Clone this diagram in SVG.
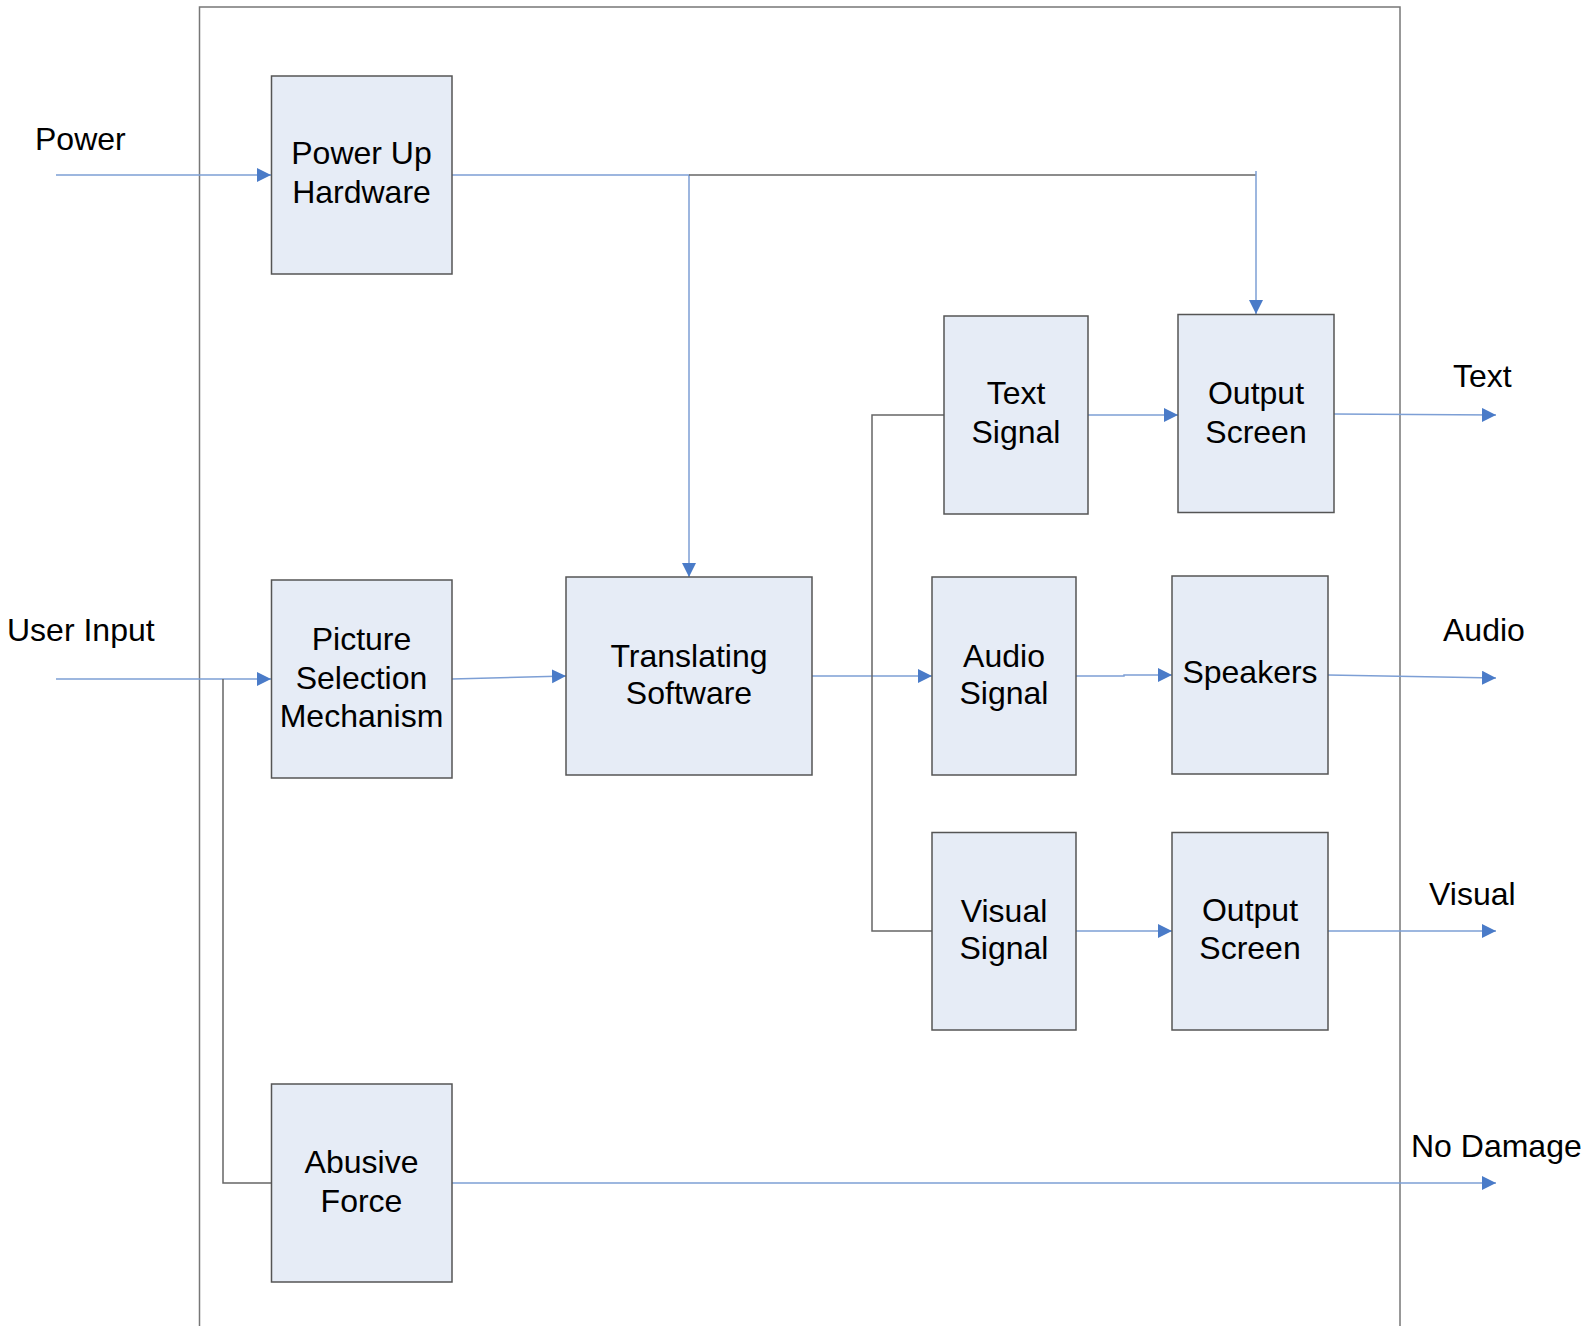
<svg xmlns="http://www.w3.org/2000/svg" width="1588" height="1326" viewBox="0 0 1588 1326">
<style>
.box{fill:#e6ecf6;stroke:#555;stroke-width:1.5}
.t{font-family:"Liberation Sans",Arial,sans-serif;font-size:32px;fill:#000}
.c{text-anchor:middle}
.b{fill:none;stroke:#7d9fd5;stroke-width:1.5}
.g{fill:none;stroke:#666;stroke-width:1.5}
</style>
<defs>
<marker id="arr" markerUnits="userSpaceOnUse" markerWidth="16" markerHeight="16" refX="14" refY="7" orient="auto">
<path d="M0,0 L14,7 L0,14 z" fill="#4a7bc8"/>
</marker>
</defs>
<rect width="1588" height="1326" fill="#fff"/>
<rect id="frame" x="199.5" y="7" width="1200.5" height="1340" fill="none" stroke="#777" stroke-width="1.5"/>

<g id="connectors">
<path class="b" d="M56,175 H271" marker-end="url(#arr)"/>
<path class="b" d="M452,175 H689 V577" marker-end="url(#arr)"/>
<path class="g" d="M689,175 H1256"/>
<path class="b" d="M1256,171 V314" marker-end="url(#arr)"/>
<path class="b" d="M56,679 H271" marker-end="url(#arr)"/>
<path class="g" d="M223,679 V1183 H272"/>
<path class="b" d="M452,679 L566,676" marker-end="url(#arr)"/>
<path class="b" d="M812,676 H932" marker-end="url(#arr)"/>
<path class="g" d="M944,415 H872 V931 H932"/>
<path class="b" d="M1088,415 H1178" marker-end="url(#arr)"/>
<path class="b" d="M1334,414 L1496,415" marker-end="url(#arr)"/>
<path class="b" d="M1076,676 H1124 V675 H1172" marker-end="url(#arr)"/>
<path class="b" d="M1328,675 L1496,678" marker-end="url(#arr)"/>
<path class="b" d="M1076,931 H1172" marker-end="url(#arr)"/>
<path class="b" d="M1328,931 H1496" marker-end="url(#arr)"/>
<path class="b" d="M452,1183 H1496" marker-end="url(#arr)"/>
</g>

<g id="power-up">
<rect class="box" x="271.5" y="76" width="180.5" height="198"/>
<text class="t c" x="361.5" y="164">Power Up</text>
<text class="t c" x="361.5" y="203">Hardware</text>
</g>
<g id="picture-selection">
<rect class="box" x="271.5" y="580" width="180.5" height="198"/>
<text class="t c" x="361.5" y="650">Picture</text>
<text class="t c" x="361.5" y="689">Selection</text>
<text class="t c" x="361.5" y="727">Mechanism</text>
</g>
<g id="abusive-force">
<rect class="box" x="271.5" y="1084" width="180.5" height="198"/>
<text class="t c" x="361.5" y="1173">Abusive</text>
<text class="t c" x="361.5" y="1212">Force</text>
</g>
<g id="translating">
<rect class="box" x="566" y="577" width="246" height="198"/>
<text class="t c" x="689" y="667">Translating</text>
<text class="t c" x="689" y="704">Software</text>
</g>
<g id="text-signal">
<rect class="box" x="944" y="316" width="144" height="198"/>
<text class="t c" x="1016" y="404">Text</text>
<text class="t c" x="1016" y="443">Signal</text>
</g>
<g id="output-screen-1">
<rect class="box" x="1178" y="314.5" width="156" height="198"/>
<text class="t c" x="1256" y="404">Output</text>
<text class="t c" x="1256" y="443">Screen</text>
</g>
<g id="audio-signal">
<rect class="box" x="932" y="577" width="144" height="198"/>
<text class="t c" x="1004" y="667">Audio</text>
<text class="t c" x="1004" y="704">Signal</text>
</g>
<g id="speakers">
<rect class="box" x="1172" y="576" width="156" height="198"/>
<text class="t c" x="1250" y="683">Speakers</text>
</g>
<g id="visual-signal">
<rect class="box" x="932" y="832.5" width="144" height="197.5"/>
<text class="t c" x="1004" y="922">Visual</text>
<text class="t c" x="1004" y="959">Signal</text>
</g>
<g id="output-screen-2">
<rect class="box" x="1172" y="832.5" width="156" height="197.5"/>
<text class="t c" x="1250" y="921">Output</text>
<text class="t c" x="1250" y="959">Screen</text>
</g>

<g id="labels">
<text class="t" x="35" y="150">Power</text>
<text class="t" x="7" y="641">User Input</text>
<text class="t" x="1453" y="387">Text</text>
<text class="t" x="1443" y="641">Audio</text>
<text class="t" x="1429" y="905">Visual</text>
<text class="t" x="1411" y="1157">No Damage</text>
</g>
</svg>
